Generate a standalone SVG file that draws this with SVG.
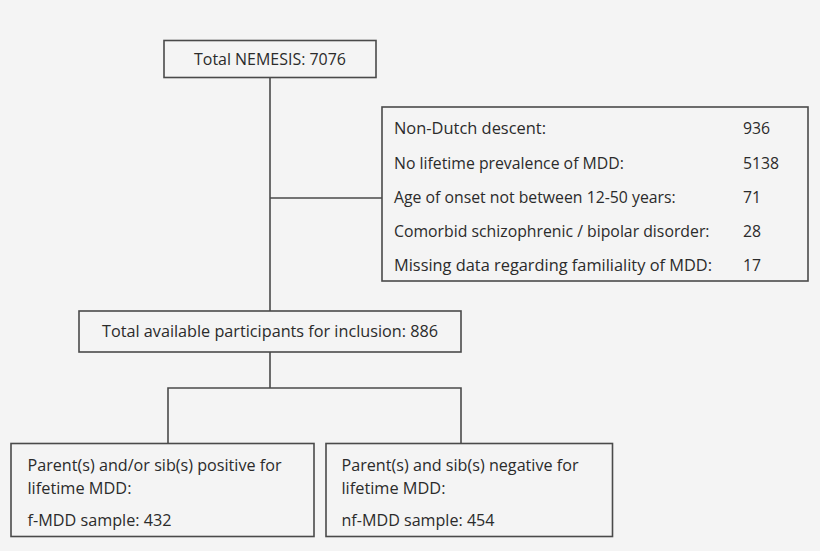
<svg xmlns="http://www.w3.org/2000/svg" width="820" height="551" viewBox="0 0 820 551">
<style>
.box{fill:#f4f4f4;stroke:#4a4a4a;stroke-width:1.6}
.ln{fill:none;stroke:#4a4a4a;stroke-width:1.6}
text{font-family:"Open Sans","Noto Sans",sans-serif;font-size:15.8px;fill:#2b2b2b}
.m{text-anchor:middle}
.b{font-size:17px}
</style>
<rect width="820" height="551" fill="#f4f4f4"/>
<g id="connectors">
<path class="ln" d="M270,77.5 V311"/>
<path class="ln" d="M270,198 H382"/>
<path class="ln" d="M270,352 V388 M168,443 V388 H461 V443"/>
</g>
<g id="n-total">
<rect class="box" x="164" y="40.5" width="212" height="37"/>
<text class="m" x="270" y="65" style="font-size:17px" textLength="152" lengthAdjust="spacingAndGlyphs">Total NEMESIS: 7076</text>
</g>
<g id="n-excluded">
<rect class="box" x="382" y="107" width="426" height="174"/>
<text x="394" y="134" textLength="152" lengthAdjust="spacingAndGlyphs">Non-Dutch descent:</text>
<text x="743" y="134">936</text>
<text x="394" y="168.5">No lifetime prevalence of MDD:</text>
<text x="743" y="168.5">5138</text>
<text x="394" y="202.5">Age of onset not between 12-50 years:</text>
<text x="743" y="202.5">71</text>
<text x="394" y="236.5">Comorbid schizophrenic / bipolar disorder:</text>
<text x="743" y="236.5">28</text>
<text x="394" y="271" textLength="318" lengthAdjust="spacingAndGlyphs">Missing data regarding familiality of MDD:</text>
<text x="743" y="271">17</text>
</g>
<g id="n-available">
<rect class="box" x="79" y="311" width="382" height="41"/>
<text class="m" x="270" y="337" style="font-size:16.3px" textLength="336" lengthAdjust="spacingAndGlyphs">Total available participants for inclusion: 886</text>
</g>
<g id="n-fmdd">
<rect class="box" x="11" y="443.5" width="303" height="93"/>
<text class="b" x="27.5" y="471" textLength="254" lengthAdjust="spacingAndGlyphs">Parent(s) and/or sib(s) positive for</text>
<text class="b" x="27.5" y="493.5" textLength="104" lengthAdjust="spacingAndGlyphs">lifetime MDD:</text>
<text class="b" x="27.5" y="525.5" textLength="144" lengthAdjust="spacingAndGlyphs">f-MDD sample: 432</text>
</g>
<g id="n-nfmdd">
<rect class="box" x="326" y="443.5" width="286.5" height="93"/>
<text class="b" x="341.5" y="471" textLength="237" lengthAdjust="spacingAndGlyphs">Parent(s) and sib(s) negative for</text>
<text class="b" x="341.5" y="493.5" textLength="104" lengthAdjust="spacingAndGlyphs">lifetime MDD:</text>
<text class="b" x="341.5" y="525.5" textLength="153" lengthAdjust="spacingAndGlyphs">nf-MDD sample: 454</text>
</g>
</svg>
